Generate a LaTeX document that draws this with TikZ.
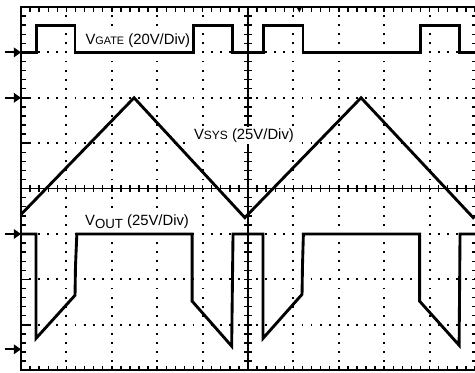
\documentclass[tikz,border=0pt]{standalone}
\usepackage{fontspec}
\setmainfont{Liberation Sans}
\usetikzlibrary{arrows.meta}

\newcommand{\smallsub}[2]{{\fontsize{#1}{#1}\selectfont #2}}

\tikzset{
  trace/.style={line width=1.8pt, line join=miter},
  dotline/.style={line width=1.2pt, dash pattern=on 1.2pt off 4.49pt, dash phase=0.6pt},
  frameline/.style={line width=1.3pt},
  tickline/.style={line width=0.9pt},
  tracetext/.style={fill=white, inner sep=1pt, anchor=base west, font=\fontsize{9.3}{11}\selectfont},
  gnd/.style={line width=1.3pt, -{Triangle[length=4.5pt,width=6pt]}},
}

\begin{document}
\begin{tikzpicture}
\useasboundingbox (-0.4625,-0.04) rectangle (10,8.154);

% dotted grid
\foreach \x in {1,2,3,4,6,7,8,9}
  \draw[dotline] (\x,0) -- (\x,8);
\foreach \y in {1,2,3,5,6,7}
  \draw[dotline] (0,\y) -- (10,\y);

% frame and centre axes
\draw[frameline] (10.03,8) -- (0,8) -- (0,0) -- (10.03,0);
\draw[frameline] (10.03,0) -- (10.03,8);
\draw[tickline] (0,4) -- (10,4);
\draw[tickline] (5,0) -- (5,8);
\foreach \i in {0,...,50} {
  \draw[tickline] (\i/5,8) -- (\i/5,7.9);
  \draw[tickline] (\i/5,0) -- (\i/5,0.1);
  \draw[tickline] (\i/5,3.92) -- (\i/5,4.08);
}
\foreach \i in {0,...,40} {
  \draw[tickline] (0,\i/5) -- (0.11,\i/5);
  \draw[tickline] (10.03,\i/5) -- (9.93,\i/5);
  \draw[tickline] (4.92,\i/5) -- (5.08,\i/5);
}
\foreach \y in {1,...,7}
  \draw[tickline] (0,\y) -- (0.22,\y);

% trigger mark
\fill (6.07,8) -- (6.19,8) -- (6.13,7.88) -- cycle;

% ground markers
\draw[gnd] (-0.36,7) -- (0,7);
\draw[gnd] (-0.36,6) -- (0,6);
\draw[gnd] (-0.36,3) -- (0,3);
\draw[gnd] (-0.36,0.46) -- (0,0.46);

% labels
\node[tracetext] (gatetext) at (1.38,7.18) {V\smallsub{6.8}{GATE} (20V/Div)};
\node[tracetext] (systext) at (3.77,5.08) {V\smallsub{7.5}{SYS} (25V/Div)};
\node[tracetext] (outtext) at (1.37,3.19) {V\raisebox{-1.7pt}{\smallsub{8.3}{OUT}} (25V/Div)};

% waveforms
\draw[trace] (0,7) -- (0.35,7) -- (0.35,7.6) -- (1.19,7.6) -- (1.19,7) -- (3.79,7) -- (3.79,7.6) -- (4.65,7.6) -- (4.65,7)
  -- (5.35,7) -- (5.35,7.6) -- (6.21,7.6) -- (6.21,7) -- (8.79,7) -- (8.79,7.6) -- (9.65,7.6) -- (9.65,7) -- (10,7);
\draw[trace] (0,3.43) -- (2.49,6) -- (4.93,3.36) -- (7.49,6) -- (9.96,3.36) -- (10,3.4);
\draw[trace] (0,3) -- (0.33,3) -- (0.33,0.70) -- (1.19,1.65) -- (1.2,2.29) -- (1.23,3) -- (3.77,3) -- (3.77,1.52) -- (4.64,0.53) -- (4.67,3)
  -- (5.33,3) -- (5.33,0.70) -- (6.19,1.67) -- (6.2,2.3) -- (6.22,3) -- (8.78,3) -- (8.78,1.52) -- (9.65,0.55) -- (9.67,3) -- (10,3);
\end{tikzpicture}
\end{document}
